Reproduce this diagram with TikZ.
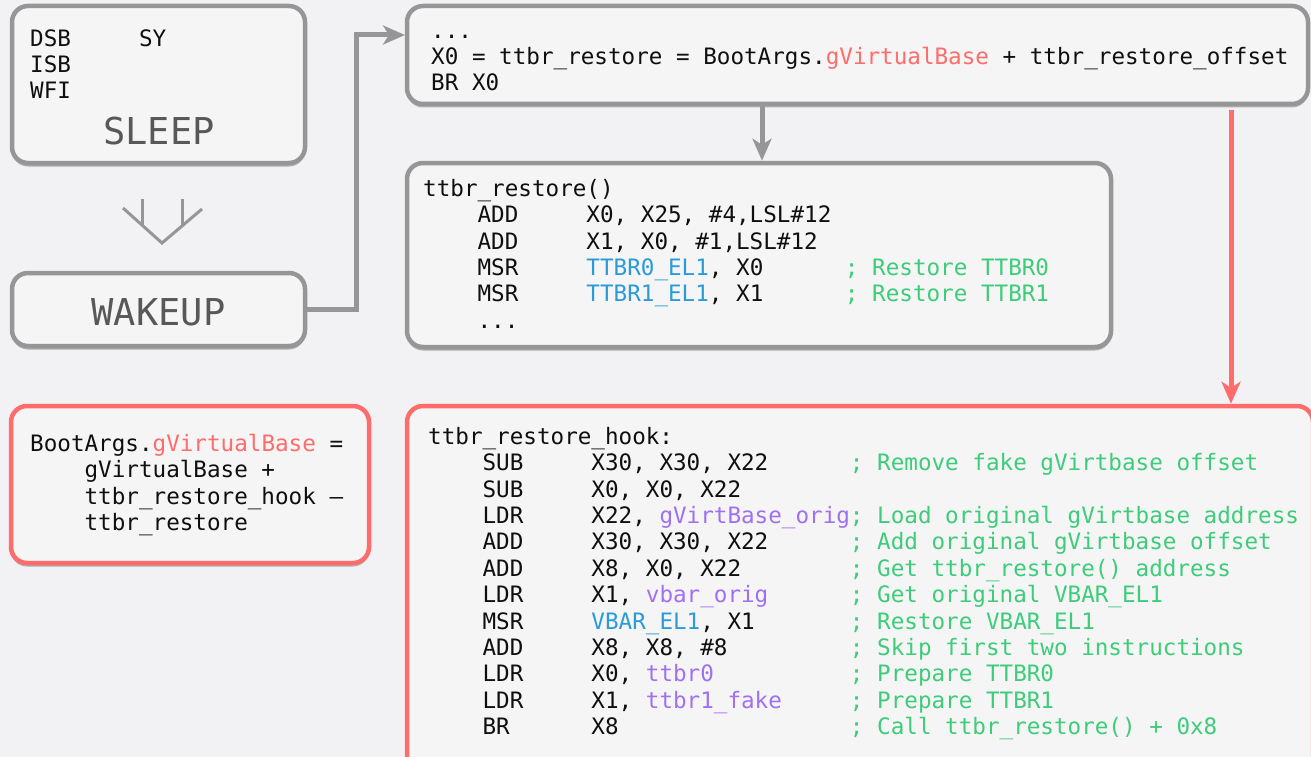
\documentclass[tikz,border=0pt]{standalone}
\usepackage{fontspec}
\setmonofont{DejaVu Sans Mono}
\usetikzlibrary{arrows.meta,shadows}
\definecolor{bg}{RGB}{242,242,244}
\definecolor{boxfill}{RGB}{245,245,245}
\definecolor{boxgray}{RGB}{150,150,150}
\definecolor{hred}{RGB}{255,108,108}
\definecolor{cblue}{RGB}{43,155,216}
\definecolor{cpurple}{RGB}{160,112,242}
\definecolor{cgreen}{RGB}{61,204,122}
\definecolor{ink}{RGB}{15,15,15}
\definecolor{label}{RGB}{88,88,88}
\newlength\cw
\setlength\cw{13.606pt}
\newcommand\col[2]{\makebox[#1\cw][l]{#2}}
\newcommand\cm[1]{\textcolor{cgreen}{#1}}
\newcommand\cb[1]{\textcolor{cblue}{#1}}
\newcommand\cp[1]{\textcolor{cpurple}{#1}}
\newcommand\hr[1]{\textcolor{hred}{#1}}
\newcommand\codefont{\fontsize{22.6pt}{26.4pt}\selectfont\ttfamily}
\newcommand\fs{\rule{0pt}{20pt}}
\newcommand\ind{\hspace*{4\cw}}
\begin{document}
\begin{tikzpicture}[x=1pt,y=-1pt,
  box/.style={draw=boxgray, line width=4.5pt, fill=boxfill, rounded corners=16pt,
    drop shadow={shadow xshift=0pt, shadow yshift=-3.5pt, fill=black, opacity=0.28}},
  redbox/.style={box, draw=hred},
  code/.style={anchor=north west, inner sep=0pt, align=left, font=\codefont, text=ink},
  biglabel/.style={anchor=base, inner sep=0pt, font=\fontsize{37pt}{40pt}\selectfont\ttfamily, text=label},
  conn/.style={draw=boxgray, line width=5pt, -{Stealth[length=22pt,width=19pt,inset=6pt]}},
  rconn/.style={conn, draw=hred}]
\useasboundingbox (0,0) rectangle (1311,757);
\clip (0,0) rectangle (1311,757);
\fill[bg] (0,0) rectangle (1311,757);

% boxes
\node[box, minimum width=293pt, minimum height=157pt] (sleep) at (158.5,84.5) {};
\node[box, minimum width=293pt, minimum height=73pt] (wakeup) at (158.5,309.5) {};
\node[box, minimum width=901pt, minimum height=98pt] (tbox) at (857.5,55) {};
\node[box, minimum width=704pt, minimum height=184pt] (restore) at (759,255) {};
\node[redbox, minimum width=358pt, minimum height=157pt] (bootargs) at (190,484.5) {};
\node[redbox, minimum width=906pt, minimum height=369pt] (hook) at (860,590.5) {};

% down symbol
\draw[boxgray, line width=3pt] (123,208) -- (162,243) -- (202,209);
\draw[boxgray, line width=3pt] (142,199) -- (142,226);
\draw[boxgray, line width=3pt] (182,199) -- (182,226);

% texts
\node[code] (sleeptxt) at (30,26) {\fs\col{8}{DSB}SY\\ISB\\WFI};
\node[biglabel] (sleeplbl) at (159,145) {SLEEP};
\node[biglabel] (wakelbl) at (158.5,325) {WAKEUP};

\node[code] (ttxt) at (431,18) {\fs...\\
X0 = ttbr\_restore = BootArgs.\hr{gVirtualBase} + ttbr\_restore\_offset\\
BR X0};

\node[code] (rtxt) at (423,176) {\fs ttbr\_restore()\\
\ind\col{8}{ADD}X0, X25, \#4,LSL\#12\\
\ind\col{8}{ADD}X1, X0, \#1,LSL\#12\\
\ind\col{8}{MSR}\col{19}{\cb{TTBR0\_EL1}, X0}\cm{; Restore TTBR0}\\
\ind\col{8}{MSR}\col{19}{\cb{TTBR1\_EL1}, X1}\cm{; Restore TTBR1}\\
\ind ...};

\node[code] (btxt) at (30,431) {\fs BootArgs.\hr{gVirtualBase} =\\
\ind gVirtualBase +\\
\ind ttbr\_restore\_hook –\\
\ind ttbr\_restore};

\node[code] (htxt) at (428,424) {\fs ttbr\_restore\_hook:\\
\ind\col{8}{SUB}\col{19}{X30, X30, X22}\cm{; Remove fake gVirtbase offset}\\
\ind\col{8}{SUB}\col{19}{X0, X0, X22}\\
\ind\col{8}{LDR}\col{19}{X22, \cp{gVirtBase\_orig}}\cm{; Load original gVirtbase address}\\
\ind\col{8}{ADD}\col{19}{X30, X30, X22}\cm{; Add original gVirtbase offset}\\
\ind\col{8}{ADD}\col{19}{X8, X0, X22}\cm{; Get ttbr\_restore() address}\\
\ind\col{8}{LDR}\col{19}{X1, \cp{vbar\_orig}}\cm{; Get original VBAR\_EL1}\\
\ind\col{8}{MSR}\col{19}{\cb{VBAR\_EL1}, X1}\cm{; Restore VBAR\_EL1}\\
\ind\col{8}{ADD}\col{19}{X8, X8, \#8}\cm{; Skip first two instructions}\\
\ind\col{8}{LDR}\col{19}{X0, \cp{ttbr0}}\cm{; Prepare TTBR0}\\
\ind\col{8}{LDR}\col{19}{X1, \cp{ttbr1\_fake}}\cm{; Prepare TTBR1}\\
\ind\col{8}{BR}\col{19}{X8}\cm{; Call ttbr\_restore() + 0x8}};

% connectors
\coordinate (tin) at (405,35);
\coordinate (ax) at (762,0);
\coordinate (rx) at (1231,0);
\draw[conn] (wakeup.east) -- ++(49,0) |- (tin);
\draw[conn] (tbox.south -| ax) -- (restore.north -| ax);
\draw[rconn, shorten <=4pt] (tbox.south -| rx) -- (hook.north -| rx);
\end{tikzpicture}
\end{document}
